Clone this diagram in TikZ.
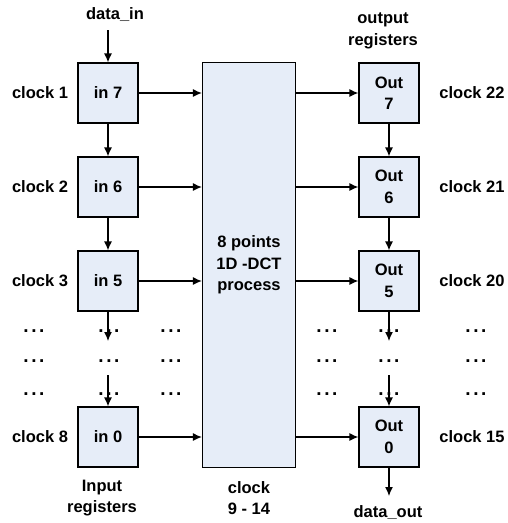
\documentclass[tikz,border=0pt]{standalone}
\usepackage{fontspec}
\setmainfont{Liberation Sans}
\usepackage{tikz}
\usetikzlibrary{arrows.meta}

\definecolor{regfill}{RGB}{230,237,248}

\tikzset{
  reg/.style={draw, line width=1.2pt, fill=regfill, minimum width=60pt, minimum height=60pt, inner sep=0pt, align=center},
  lbl/.style={align=center},
  dotrow/.style={anchor=base, font=\fontsize{19}{21}\selectfont\bfseries},
  flow/.style={-{Latex[length=9pt,width=8pt]}, line width=1.2pt}
}
\newcommand{\vdotsrow}{.\hspace{2.6pt}.\hspace{2.6pt}.}

\begin{document}
\begin{tikzpicture}[x=1pt,y=-1pt,font=\fontsize{16.5}{21.5}\selectfont\bfseries]
\useasboundingbox (0,0) rectangle (508,523);

% input registers
\node[reg] (in7) at (108,93) {in 7};
\node[reg] (in6) at (108,187) {in 6};
\node[reg] (in5) at (108,281) {in 5};
\node[reg] (in0) at (108,437) {in 0};

% dct block
\node[reg, minimum width=93pt, minimum height=405pt] (dct) at (249,265) {8 points\\1D -DCT\\process};

% output registers
\node[reg] (out7) at (389,93) {Out\\7};
\node[reg] (out6) at (389,187) {Out\\6};
\node[reg] (out5) at (389,281) {Out\\5};
\node[reg] (out0) at (389,437) {Out\\0};

\node[lbl] (datain) at (115,15) {data\_in};
\node[lbl] (outreg) at (383,31) {output\\registers};
\node[lbl] (inreg) at (102,498) {Input\\registers};
\node[lbl] (dctclk) at (249,498) {clock\\9 - 14};
\node[lbl] (dataout) at (388,513) {data\_out};

\node[lbl] (c1) at (40,93) {clock 1};
\node[lbl] (c2) at (40,187) {clock 2};
\node[lbl] (c3) at (40,281) {clock 3};
\node[lbl] (c8) at (40,437) {clock 8};
\node[lbl] (c22) at (472,93) {clock 22};
\node[lbl] (c21) at (472,187) {clock 21};
\node[lbl] (c20) at (472,281) {clock 20};
\node[lbl] (c15) at (472,437) {clock 15};

% dots
\foreach \yy [count=\r] in {332,362,395} {
  \foreach \xx [count=\c] in {34,109,171,327,389,476}
    \node[dotrow] (dot\r-\c) at (\xx,\yy) {\vdotsrow};
}

\coordinate (inTop) at (108,30);
\coordinate (inGapA) at (108,341);
\coordinate (inGapB) at (108,375);
\coordinate (outGapA) at (389,341);
\coordinate (outGapB) at (389,375);
\coordinate (outEnd) at (389,496);

\draw[flow] (inTop) -- (in7);
\draw[flow] (in7) -- (in6);
\draw[flow] (in6) -- (in5);
\draw[flow] (in5) -- (inGapA);
\draw[flow] (inGapB) -- (in0);

\draw[flow] (out7) -- (out6);
\draw[flow] (out6) -- (out5);
\draw[flow] (out5) -- (outGapA);
\draw[flow] (outGapB) -- (out0);
\draw[flow] (out0) -- (outEnd);

\foreach \n in {7,6,5,0} {
  \draw[flow] (in\n.east) -- (dct.west |- in\n.east);
  \draw[flow] (dct.east |- out\n.west) -- (out\n.west);
}

\end{tikzpicture}
\end{document}
